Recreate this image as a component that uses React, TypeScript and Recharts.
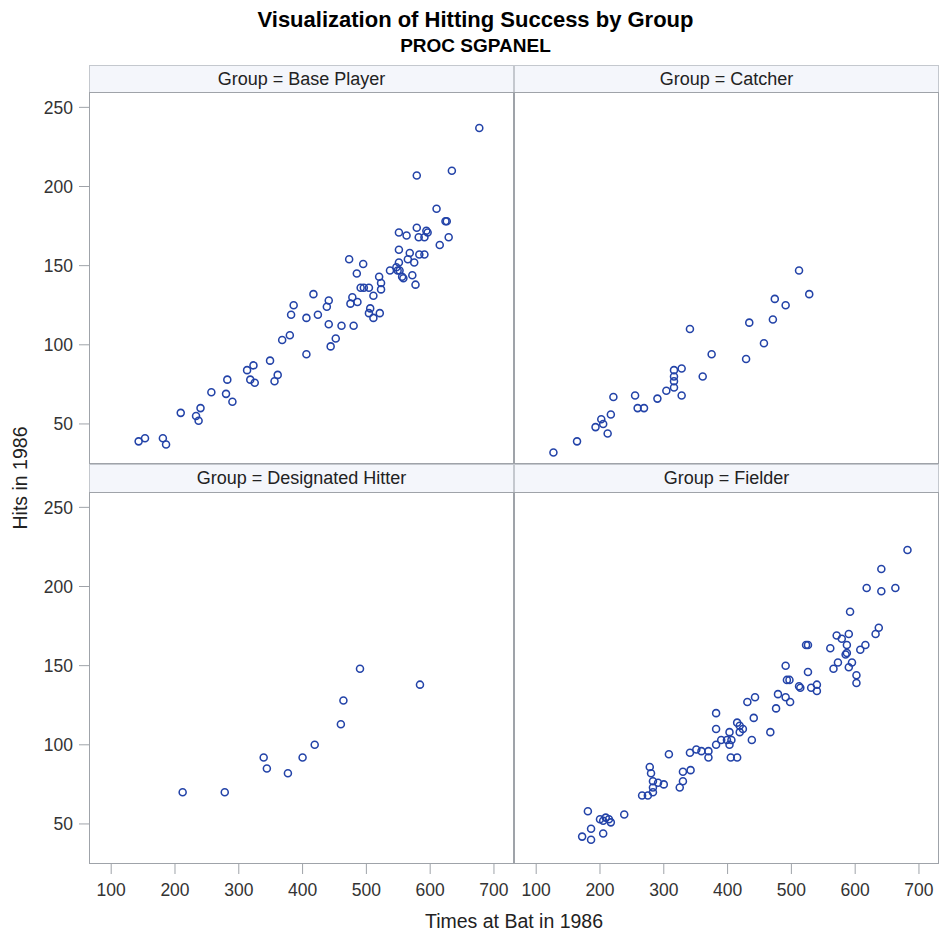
import React from 'react';
import { ScatterChart, Scatter, XAxis, YAxis } from 'recharts';

// ---- data (Times at Bat in 1986, Hits in 1986) ----
const xTicks = [100, 200, 300, 400, 500, 600, 700];
const yTicks = [50, 100, 150, 200, 250];

const basePlayer: [number, number][] = [
  [143, 39], [153, 41], [181, 41], [186, 37], [209, 57], [233, 55], [240, 60], [237, 52],
  [257, 70], [280, 69], [282, 78], [290, 64], [313, 84], [323, 87], [318, 78], [325, 76],
  [349, 90], [361, 81], [356, 77], [368, 103], [380, 106], [382, 119], [386, 125], [406, 117],
  [406, 94], [677, 237], [579, 207], [634, 210], [610, 186], [624, 178], [626, 178], [579, 174],
  [594, 172], [596, 171], [551, 171], [563, 169], [582, 168], [591, 168], [629, 168], [615, 163],
  [551, 160], [568, 158], [583, 157], [591, 157], [473, 154], [495, 151], [551, 152], [565, 154],
  [575, 152], [485, 145], [537, 147], [547, 149], [549, 147], [552, 147], [556, 143], [558, 142],
  [572, 144], [577, 138], [520, 143], [523, 139], [523, 135], [491, 136], [496, 136], [504, 136],
  [511, 131], [417, 132], [441, 128], [438, 124], [478, 130], [475, 126], [486, 127], [424, 119],
  [441, 113], [461, 112], [480, 112], [506, 123], [504, 120], [521, 120], [511, 117], [452, 104],
  [444, 99],
];

const catcher: [number, number][] = [
  [127, 32], [164, 39], [193, 48], [202, 53], [205, 50], [212, 44], [217, 56], [221, 67],
  [255, 68], [259, 60], [269, 60], [290, 66], [304, 71], [316, 84], [316, 80], [316, 77],
  [316, 73], [328, 85], [328, 68], [361, 80], [375, 94], [341, 110], [512, 147], [528, 132],
  [474, 129], [491, 125], [471, 116], [434, 114], [457, 101], [429, 91],
];

const designatedHitter: [number, number][] = [
  [212, 70], [278, 70], [339, 92], [344, 85], [377, 82], [400, 92], [419, 100], [460, 113],
  [464, 128], [490, 148], [584, 138],
];

const fielder: [number, number][] = [
  [172, 42], [186, 40], [186, 47], [181, 58], [205, 44], [200, 53], [205, 52], [209, 54],
  [214, 53], [217, 51], [238, 56], [266, 68], [275, 68], [283, 70], [283, 73], [283, 77],
  [291, 76], [300, 75], [278, 86], [280, 82], [308, 94], [325, 73], [330, 77], [330, 83],
  [342, 84], [341, 95], [351, 97], [359, 96], [370, 96], [370, 92], [382, 120], [382, 110],
  [382, 100], [390, 103], [403, 108], [403, 100], [399, 103], [406, 103], [405, 92],
  [682, 223], [641, 211], [618, 199], [641, 197], [663, 199], [592, 184], [637, 174], [632, 170],
  [571, 169], [579, 167], [590, 170], [587, 163], [616, 163], [608, 160], [561, 161], [585, 157],
  [587, 158], [523, 163], [526, 163], [491, 150], [526, 146], [573, 152], [595, 152], [566, 148],
  [590, 149], [602, 144], [602, 139], [493, 141], [497, 141], [512, 137], [514, 136], [531, 136],
  [540, 138], [540, 134], [479, 132], [491, 130], [498, 127], [476, 123], [443, 130], [431, 127],
  [441, 117], [415, 114], [419, 112], [424, 110], [419, 108], [438, 103], [467, 108], [415, 92],
];

const groupNames = ['Base Player', 'Catcher', 'Designated Hitter', 'Fielder'];
const groupData = [basePlayer, catcher, designatedHitter, fielder];

// ---- styling / layout ----
const FONT = '"Liberation Sans", Arial, Helvetica, sans-serif';
const MARK = '#2343a8';
const FRAME = '#9fa3a9';
const STRIP_BG = '#f4f6fb';
const STRIP_BORDER = '#c4c8ce';
const X_DOMAIN: [number, number] = [65.2, 731.4];
const Y_DOMAIN: [number, number] = [24.7, 259.7];

const PLOT_W = 425;
const PLOT_H = 372;
const COLS = [89, 514];
const ROWS = [92, 492];
const STRIP_TOPS = [65, 464];

const toPoints = (arr: [number, number][]) => arr.map(([x, y]) => ({ x, y }));

function Ring(props: any) {
  const { cx, cy } = props;
  if (cx == null || cy == null) return null;
  return <circle cx={cx} cy={cy} r={3.5} fill="none" stroke={MARK} strokeWidth={1.55} />;
}

function Panel({ data, left, top, showX, showY }: any) {
  const yw = showY ? 89 : 0;
  const xh = showX ? 50 : 0;
  const tickStyle = { fill: '#333', fontSize: 17.5, fontFamily: FONT };
  return (
    <div style={{ position: 'absolute', left: left - yw, top }}>
      <ScatterChart width={PLOT_W + yw} height={PLOT_H + xh} margin={{ top: 0, right: 0, bottom: 0, left: 0 }}>
        <XAxis
          type="number"
          dataKey="x"
          domain={X_DOMAIN}
          allowDataOverflow
          ticks={xTicks}
          interval={0}
          hide={!showX}
          height={xh || 1}
          axisLine={false}
          tickLine={{ stroke: FRAME }}
          tickSize={10}
          tickMargin={10}
          tick={tickStyle}
        />
        <YAxis
          type="number"
          dataKey="y"
          domain={Y_DOMAIN}
          allowDataOverflow
          ticks={yTicks}
          interval={0}
          hide={!showY}
          width={yw || 1}
          axisLine={false}
          tickLine={{ stroke: FRAME }}
          tickSize={10}
          tickMargin={6}
          tick={tickStyle}
        />
        <Scatter data={toPoints(data)} shape={<Ring />} isAnimationActive={false} />
      </ScatterChart>
    </div>
  );
}

export default function App() {
  return (
    <div style={{ position: 'absolute', left: 0, top: 0, width: 940, height: 936, background: '#fff', fontFamily: FONT }}>
      {groupData.map((d, i) => {
        const r = Math.floor(i / 2);
        const c = i % 2;
        return (
          <Panel key={i} data={d} left={COLS[c]} top={ROWS[r]} showX={r === 1} showY={c === 0} />
        );
      })}
      {/* strips */}
      {groupNames.map((g, i) => {
        const r = Math.floor(i / 2);
        const c = i % 2;
        return (
          <div
            key={'s' + i}
            style={{
              position: 'absolute',
              left: COLS[c],
              top: STRIP_TOPS[r],
              width: PLOT_W,
              height: ROWS[r] - STRIP_TOPS[r] + 1,
              boxSizing: 'border-box',
              background: STRIP_BG,
              border: `1px solid ${STRIP_BORDER}`,
            }}
          />
        );
      })}
      {/* frames */}
      {groupNames.map((g, i) => {
        const r = Math.floor(i / 2);
        const c = i % 2;
        return (
          <div
            key={'f' + i}
            style={{
              position: 'absolute',
              left: COLS[c],
              top: ROWS[r],
              width: PLOT_W,
              height: PLOT_H,
              boxSizing: 'border-box',
              border: `1px solid ${FRAME}`,
              pointerEvents: 'none',
            }}
          />
        );
      })}
      <svg width={940} height={936} style={{ position: 'absolute', left: 0, top: 0, pointerEvents: 'none' }}>
        <text x={475.5} y={27} textAnchor="middle" fontFamily={FONT} fontWeight="bold" fontSize={22} fill="#000">
          Visualization of Hitting Success by Group
        </text>
        <text x={475.5} y={52} textAnchor="middle" fontFamily={FONT} fontWeight="bold" fontSize={19} fill="#000">
          PROC SGPANEL
        </text>
        {groupNames.map((g, i) => {
          const r = Math.floor(i / 2);
          const c = i % 2;
          return (
            <text
              key={'t' + i}
              x={COLS[c] + PLOT_W / 2}
              y={STRIP_TOPS[r] + 20}
              textAnchor="middle"
              fontFamily={FONT}
              fontSize={18}
              fill="#222"
            >
              {`Group = ${g}`}
            </text>
          );
        })}
        <text x={514} y={928} textAnchor="middle" fontFamily={FONT} fontSize={19.5} fill="#222">
          Times at Bat in 1986
        </text>
        <text
          x={27}
          y={478}
          textAnchor="middle"
          fontFamily={FONT}
          fontSize={19.5}
          fill="#222"
          transform="rotate(-90 27 478)"
        >
          Hits in 1986
        </text>
      </svg>
    </div>
  );
}
